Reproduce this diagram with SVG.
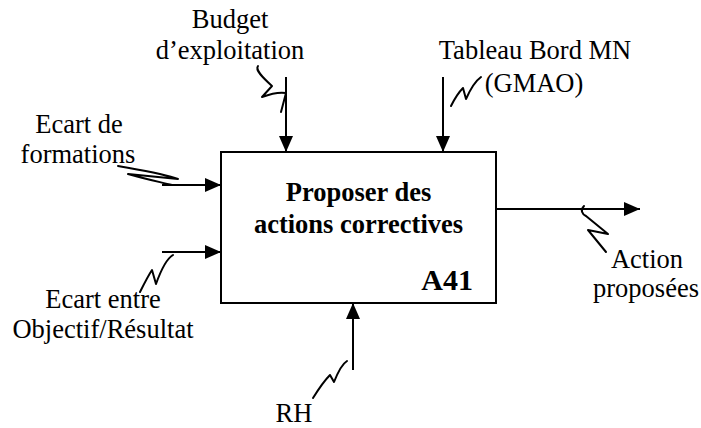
<svg xmlns="http://www.w3.org/2000/svg" width="701" height="428" viewBox="0 0 701 428">
  <style>
    text { font-family: "Liberation Serif", "Noto Serif", "DejaVu Serif", serif; fill: #000; }
    .lbl { font-size: 26.5px; text-anchor: middle; }
    .title { font-size: 26.5px; font-weight: bold; text-anchor: middle; }
    .code { font-size: 30px; font-weight: bold; text-anchor: end; }
    .flow { stroke: #000; stroke-width: 2; fill: none; marker-end: url(#head); }
    .sq { stroke: #000; stroke-width: 2; fill: none; stroke-linecap: round; stroke-linejoin: round; }
  </style>
  <defs>
    <marker id="head" markerUnits="userSpaceOnUse" markerWidth="16" markerHeight="14" refX="16" refY="7" orient="auto">
      <path d="M0,0 L16,7 L0,14 z" fill="#000"/>
    </marker>
  </defs>
  <rect width="701" height="428" fill="#fff"/>

  <!-- activity box -->
  <g id="activity">
    <rect x="221" y="152" width="275" height="151" fill="#fff" stroke="#000" stroke-width="2"/>
    <text class="title" x="358.5" y="201">Proposer des</text>
    <text class="title" x="358.5" y="233">actions correctives</text>
    <text class="code" x="473" y="290">A41</text>
  </g>

  <!-- arrows and their label squiggles -->
  <g id="connectors">
    <line class="flow" x1="286" y1="77" x2="286" y2="152"/>
    <line class="flow" x1="443" y1="77" x2="443" y2="152"/>
    <line class="flow" x1="162" y1="185" x2="221" y2="185"/>
    <line class="flow" x1="162" y1="252" x2="221" y2="252"/>
    <line class="flow" x1="496" y1="209" x2="640" y2="209"/>
    <line class="flow" x1="353" y1="370" x2="353" y2="303"/>

    <path class="sq" d="M258,66 C255,70 262,77 272,86 L262,97 C270,94 280,92 286,93 L281,112"/>
    <path class="sq" d="M451,106 C455,98 459,92 463,88 L466,99 C470,90 474,82 481,77"/>
    <path class="sq" d="M118,166 C140,170 165,174 178,179 L128,174 C145,179 160,182 172,185"/>
    <path class="sq" d="M140,292 C144,284 148,276 152,270 L156,284 C161,270 166,259 173,255"/>
    <path class="sq" d="M584,206 C580,210 582,214 586,216 L608,234 L588,230 L606,252"/>
    <path class="sq" d="M313,398 C318,390 324,381 330,375 L334,382 C338,372 342,364 347,361"/>
  </g>

  <!-- flow labels -->
  <g id="label-budget">
    <text class="lbl" x="230" y="28">Budget</text>
    <text class="lbl" x="230" y="59">d’exploitation</text>
  </g>
  <g id="label-tableau">
    <text class="lbl" x="535" y="59">Tableau Bord MN</text>
    <text class="lbl" x="534" y="92">(GMAO)</text>
  </g>
  <g id="label-formations">
    <text class="lbl" x="79" y="133">Ecart de</text>
    <text class="lbl" x="78" y="163">formations</text>
  </g>
  <g id="label-objectif">
    <text class="lbl" x="103" y="308">Ecart entre</text>
    <text class="lbl" x="103" y="338">Objectif/Résultat</text>
  </g>
  <g id="label-action">
    <text class="lbl" x="647" y="268">Action</text>
    <text class="lbl" x="646" y="297">proposées</text>
  </g>
  <g id="label-rh">
    <text class="lbl" x="294" y="422">RH</text>
  </g>
</svg>
